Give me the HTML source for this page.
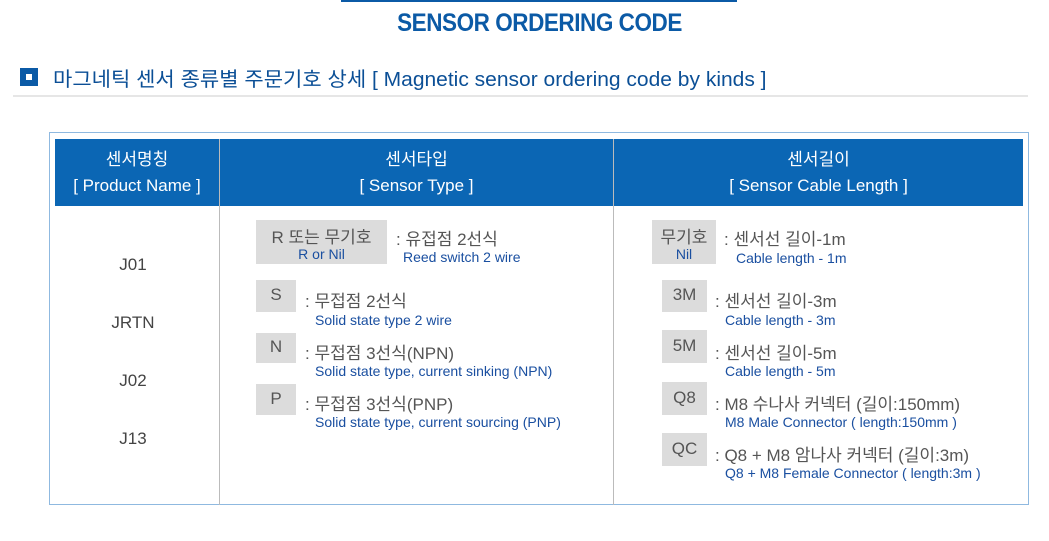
<!DOCTYPE html>
<html><head><meta charset="utf-8"><style>
body{margin:0;width:1049px;height:541px;background:#fff;position:relative;overflow:hidden;font-family:"Liberation Sans","Noto Sans CJK KR",sans-serif}
.a{position:absolute;white-space:nowrap}
.k{color:#555;font-size:17px}
.e{color:#1a4fa0;font-size:14px}
.b{position:absolute;background:#dcdcdc;color:#555;font-size:17px;text-align:center}
.h{color:#fff;font-size:17px;text-align:center;line-height:26px}
.n{color:#444;font-size:17px;width:160px;text-align:center;left:53px}
</style></head><body>
<div class="a" style="left:341px;top:0;width:396px;height:2px;background:#0b5aa6"></div>
<div class="a" style="left:15px;width:1049px;top:9px;text-align:center;font-size:25px;color:#0b5aa6;font-weight:bold;letter-spacing:-0.5px;transform:scaleX(0.9)">SENSOR ORDERING CODE</div>
<div class="a" style="left:20px;top:68px;width:18px;height:18px;background:#0b5aa6"></div>
<div class="a" style="left:26px;top:74px;width:6px;height:6px;background:#fff"></div>
<div class="a" style="left:53px;top:63px;font-size:20px;color:#0b4f96;transform:scaleX(1.05);transform-origin:left">마그네틱 센서 종류별 주문기호 상세 [ Magnetic sensor ordering code by kinds ]</div>
<div class="a" style="left:13px;top:95px;width:1015px;height:2px;background:#e6e6e6"></div>
<div class="a" style="left:49px;top:132px;width:978px;height:371px;border:1px solid #8fb9e0"></div>
<div class="a" style="left:55px;top:139px;width:968px;height:67px;background:#0b66b4"></div>
<div class="a" style="left:219px;top:139px;width:1px;height:366px;background:#bbb"></div>
<div class="a" style="left:613px;top:139px;width:1px;height:366px;background:#bbb"></div>
<div class="a h" style="left:55px;top:147px;width:164px">센서명칭<br>[ Product Name ]</div>
<div class="a h" style="left:220px;top:147px;width:393px">센서타입<br>[ Sensor Type ]</div>
<div class="a h" style="left:614px;top:147px;width:409px">센서길이<br>[ Sensor Cable Length ]</div>
<div class="a n" style="top:255px">J01</div>
<div class="a n" style="top:313px">JRTN</div>
<div class="a n" style="top:371px">J02</div>
<div class="a n" style="top:429px">J13</div>

<div class="b" style="left:256px;top:220px;width:131px;height:44px"><div style="margin-top:3px">R 또는 무기호</div><div class="e" style="margin-top:-2px">R or Nil</div></div>
<div class="a k" style="left:396px;top:225px">: 유접점 2선식</div>
<div class="a e" style="left:403px;top:249px">Reed switch 2 wire</div>
<div class="b" style="left:256px;top:280px;width:40px;height:32px;line-height:30px">S</div>
<div class="a k" style="left:305px;top:287px">: 무접점 2선식</div>
<div class="a e" style="left:315px;top:312px">Solid state type 2 wire</div>
<div class="b" style="left:256px;top:333px;width:40px;height:30px;line-height:28px">N</div>
<div class="a k" style="left:305px;top:339px">: 무접점 3선식(NPN)</div>
<div class="a e" style="left:315px;top:363px">Solid state type, current sinking (NPN)</div>
<div class="b" style="left:256px;top:384px;width:40px;height:31px;line-height:29px">P</div>
<div class="a k" style="left:305px;top:390px">: 무접점 3선식(PNP)</div>
<div class="a e" style="left:315px;top:414px">Solid state type, current sourcing (PNP)</div>

<div class="b" style="left:652px;top:220px;width:64px;height:44px"><div style="margin-top:3px">무기호</div><div class="e" style="margin-top:-2px">Nil</div></div>
<div class="a k" style="left:724px;top:225px">: 센서선 길이-1m</div>
<div class="a e" style="left:736px;top:250px">Cable length - 1m</div>
<div class="b" style="left:662px;top:280px;width:45px;height:32px;line-height:30px">3M</div>
<div class="a k" style="left:715px;top:287px">: 센서선 길이-3m</div>
<div class="a e" style="left:725px;top:312px">Cable length - 3m</div>
<div class="b" style="left:662px;top:330px;width:45px;height:33px;line-height:31px">5M</div>
<div class="a k" style="left:715px;top:339px">: 센서선 길이-5m</div>
<div class="a e" style="left:725px;top:363px">Cable length - 5m</div>
<div class="b" style="left:662px;top:382px;width:45px;height:33px;line-height:31px">Q8</div>
<div class="a k" style="left:715px;top:390px">: M8 수나사 커넥터 (길이:150mm)</div>
<div class="a e" style="left:725px;top:414px">M8 Male Connector ( length:150mm )</div>
<div class="b" style="left:662px;top:433px;width:45px;height:33px;line-height:31px">QC</div>
<div class="a k" style="left:715px;top:441px">: Q8 + M8 암나사 커넥터 (길이:3m)</div>
<div class="a e" style="left:725px;top:465px">Q8 + M8 Female Connector ( length:3m )</div>
</body></html>
